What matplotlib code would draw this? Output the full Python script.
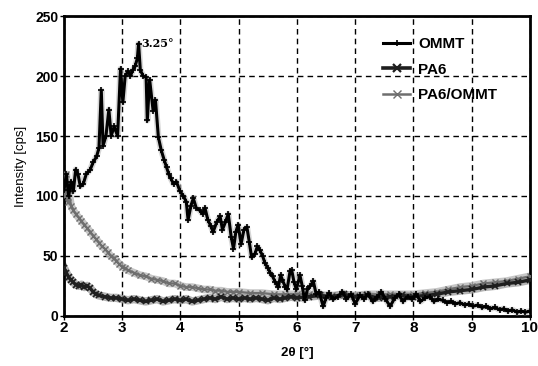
import matplotlib
matplotlib.use("Agg")
import matplotlib.pyplot as plt
from matplotlib.lines import Line2D

plt.rcParams['font.family'] = ['Liberation Sans', 'DejaVu Sans']

ommt_x = [2.00, 2.04, 2.08, 2.12, 2.16, 2.20, 2.24, 2.28, 2.33, 2.38, 2.45, 2.50, 2.56, 2.60, 2.64, 2.67, 2.72, 2.77,
          2.81, 2.86, 2.92, 2.97, 3.01, 3.05, 3.10, 3.14, 3.18, 3.22, 3.26, 3.28, 3.31, 3.36, 3.41, 3.43, 3.47, 3.53,
          3.57, 3.62, 3.67, 3.72, 3.76, 3.80, 3.83, 3.88, 3.93, 3.99, 4.05, 4.10, 4.13, 4.18,
          4.22, 4.27, 4.33, 4.38, 4.42, 4.47, 4.52, 4.56, 4.62, 4.68, 4.72, 4.77, 4.82, 4.87, 4.91, 4.95, 4.99, 5.04,
          5.09, 5.14, 5.18, 5.22, 5.28, 5.32, 5.36, 5.41, 5.45, 5.50, 5.54, 5.58, 5.63, 5.68, 5.72, 5.75, 5.80, 5.83,
          5.88, 5.91, 5.95, 5.99, 6.05, 6.09, 6.13, 6.18, 6.23, 6.28, 6.33, 6.38, 6.45, 6.50, 6.55, 6.62, 6.70, 6.78,
          6.85, 6.93, 7.00, 7.08, 7.15, 7.22, 7.30, 7.38, 7.45, 7.52, 7.60, 7.68, 7.75, 7.82, 7.90, 7.98, 8.05, 8.12,
          8.20, 8.28, 8.35, 8.42, 8.50, 8.58, 8.65, 8.72, 8.80, 8.88, 8.95, 9.02, 9.10, 9.18, 9.25, 9.32, 9.40, 9.48,
          9.55, 9.62, 9.70, 9.78, 9.85, 9.92, 10.00]
ommt_y = [105, 118, 100, 112, 104, 122, 118, 108, 110, 118, 122, 128, 133, 140, 188, 142, 150, 172,
          150, 158, 150, 206, 178, 200, 204, 200, 205, 208, 215, 227, 205, 200, 199, 163, 197, 171,
          180, 149, 138, 130, 124, 118, 115, 110, 112, 104, 100, 95, 80, 92,
          98, 90, 88, 85, 90, 80, 75, 70, 78, 83, 72, 78, 85, 66, 56, 70, 76, 60,
          72, 74, 62, 49, 52, 58, 55, 50, 44, 40, 36, 33, 28, 24, 34, 30, 24, 22,
          37, 38, 28, 22, 34, 25, 13, 22, 25, 29, 18, 20, 8, 15, 19, 14, 16, 20,
          14, 18, 10, 17, 14, 18, 12, 16, 20, 14, 8, 15, 18, 12, 16, 14, 18, 12,
          15, 16, 12, 14, 13, 11, 12, 10, 11, 9, 10, 8, 9, 7, 8, 6, 7, 5,
          6, 4, 5, 3, 4, 3, 4]

pa6_x = [2.00, 2.04, 2.08, 2.12, 2.16, 2.20, 2.25, 2.30, 2.35, 2.40, 2.45, 2.50, 2.55, 2.60, 2.70, 2.80, 2.90, 3.00,
         3.10, 3.20, 3.30, 3.40, 3.50, 3.60, 3.70, 3.80, 3.90, 4.00, 4.10, 4.20, 4.30, 4.40, 4.50, 4.60, 4.70, 4.80,
         4.90, 5.00, 5.10, 5.20, 5.30, 5.40, 5.50, 5.60, 5.70, 5.80, 5.90, 6.00, 6.20, 6.40, 6.60, 6.80, 7.00, 7.20,
         7.40, 7.60, 7.80, 8.00, 8.20, 8.40, 8.60, 8.80, 9.00, 9.20, 9.40, 9.60, 9.80, 10.00]
pa6_y = [40, 36, 32, 30, 28, 26, 25, 26, 24, 25, 23, 20, 18, 17, 16, 15, 15, 14,
         13, 14, 13, 12, 13, 14, 12, 13, 14, 13, 14, 12, 13, 14, 15, 14, 16, 14,
         15, 14, 15, 14, 15, 14, 13, 15, 14, 15, 16, 15, 16, 17, 16, 18, 16, 17,
         15, 16, 17, 16, 17, 18, 20, 21, 22, 24, 25, 27, 28, 30]

pao_x = [2.00, 2.02, 2.04, 2.06, 2.08, 2.12, 2.16, 2.20, 2.25, 2.30, 2.35, 2.40, 2.45, 2.50, 2.55, 2.60, 2.65, 2.70,
         2.75, 2.80, 2.85, 2.90, 2.95, 3.00, 3.05, 3.10, 3.20, 3.30, 3.40, 3.50, 3.60, 3.70, 3.80, 3.90, 4.00, 4.10,
         4.20, 4.30, 4.40, 4.50, 4.60, 4.70, 4.80, 4.90, 5.00, 5.20, 5.40, 5.60, 5.80, 6.00, 6.20, 6.40, 6.60, 6.80,
         7.00, 7.20, 7.40, 7.60, 7.80, 8.00, 8.20, 8.40, 8.60, 8.80, 9.00, 9.20, 9.40, 9.60, 9.80, 10.00]
pao_y = [110, 100, 118, 95, 105, 92, 88, 85, 82, 79, 76, 73, 70, 67, 64, 61, 58, 56,
         53, 50, 48, 46, 43, 41, 40, 38, 36, 34, 33, 31, 30, 29, 27, 27, 25, 24,
         24, 23, 22, 22, 21, 21, 20, 20, 20, 19, 19, 18, 18, 18, 18, 17, 17, 17,
         17, 18, 18, 18, 18, 18, 19, 20, 22, 24, 25, 27, 28, 29, 31, 33]

labels = ['OMMT', 'PA6', 'PA6/OMMT']
x_ticks = [2, 3, 4, 5, 6, 7, 8, 9, 10]
y_ticks = [0, 50, 100, 150, 200, 250]

fig = plt.figure(figsize=(5.38, 3.66), dpi=100)
ax = fig.add_axes([0.119, 0.137, 0.866, 0.819])

# halos
ax.plot(pao_x, pao_y, color='#b8b8b8', lw=5.5, alpha=0.8, zorder=2)
ax.plot(pa6_x, pa6_y, color='#a0a0a0', lw=6, alpha=0.8, zorder=2)
ax.plot(ommt_x, ommt_y, color='#bdbdbd', lw=4.5, alpha=0.6, zorder=3)
# main lines
ax.plot(pao_x, pao_y, color='#6e6e6e', lw=1.6, marker='x', ms=4, mew=1.0, zorder=4)
ax.plot(pa6_x, pa6_y, color='#1e1e1e', lw=2.4, marker='x', ms=4, mew=1.2, zorder=5)
ax.plot(ommt_x, ommt_y, color='#000000', lw=2.2, marker='+', ms=4, mew=1.2, zorder=6)

ax.set_xlim(2, 10)
ax.set_ylim(0, 250)
ax.set_xticks(x_ticks)
ax.set_yticks(y_ticks)
ax.set_xticklabels([str(t) for t in x_ticks], fontsize=11, fontweight='bold')
ax.set_yticklabels([str(t) for t in y_ticks], fontsize=10, fontweight='bold')
ax.tick_params(axis='both', direction='out', length=3, width=1, pad=1)
ax.grid(True, linestyle=(0, (4, 3)), color='black', lw=1.0)
for s in ax.spines.values():
    s.set_linewidth(2)
ax.set_xlabel('2θ [°]', fontsize=9.5, fontweight='bold', labelpad=8)
ax.set_ylabel('Intensity [cps]', fontsize=9.5, labelpad=6)

ax.annotate('3.25°', xy=(3.28, 227), xytext=(3.33, 227), fontsize=8, fontweight='bold',
            family='DejaVu Serif', va='center', ha='left')

handles = [
    Line2D([], [], color='black', lw=2.2, marker='+', ms=5, mew=1.2),
    Line2D([], [], color='#1e1e1e', lw=2.6, marker='x', ms=6, mew=1.6),
    Line2D([], [], color='#6e6e6e', lw=1.8, marker='x', ms=6, mew=1.0),
]
leg = ax.legend(handles, labels, loc='upper left', bbox_to_anchor=(0.655, 0.975), frameon=False,
                prop={'size': 11, 'weight': 'bold'}, handlelength=1.8, handletextpad=0.5, labelspacing=0.75)

fig.savefig('out.png', dpi=100)
